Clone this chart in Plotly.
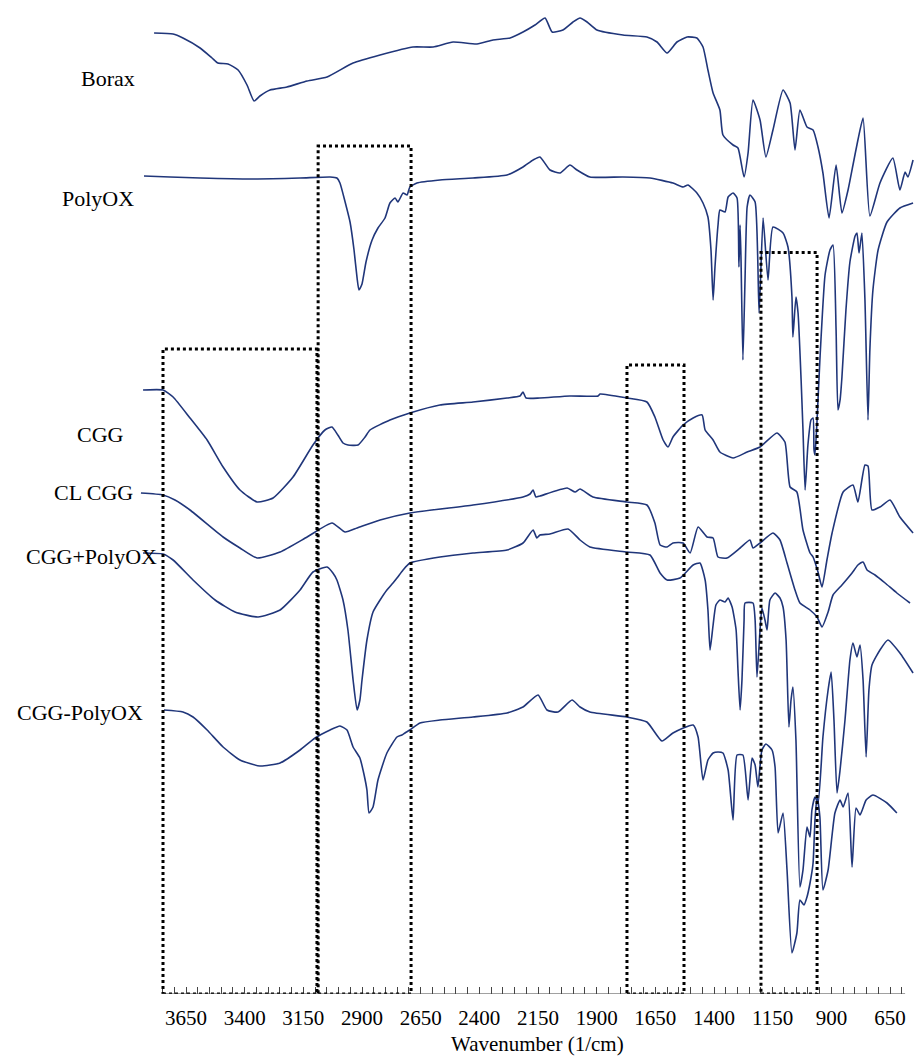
import plotly.graph_objects as go

# ---------------- data (wavenumber in 1/cm, stacked transmittance offsets in a.u.) ----------------
sample_names = ["Borax", "PolyOX", "CGG", "CL CGG", "CGG+PolyOX", "CGG-PolyOX"]

borax_wn = [3786, 3705, 3663, 3590, 3539, 3514, 3471, 3428, 3390, 3360, 3335, 3292, 3220, 3134, 3049,
            2938, 2823, 2683, 2597, 2512, 2410, 2342, 2269, 2214, 2163, 2120, 2090, 2044, 2001, 1971,
            1941, 1899, 1788, 1686, 1643, 1600, 1558, 1515, 1473, 1447, 1426, 1404, 1375, 1362, 1319,
            1298, 1272, 1255, 1234, 1204, 1179, 1149, 1106, 1076, 1055, 1034, 1004, 978, 957, 936,
            910, 880, 855, 829, 808, 787, 765, 736, 693, 638, 608, 586, 574, 552]
borax_t = [96.1, 96.0, 95.6, 94.6, 93.6, 93.1, 93.0, 92.4, 90.9, 89.3, 89.8, 90.4, 90.7, 91.3, 91.7,
           93.1, 93.9, 94.7, 94.7, 95.2, 95.0, 95.4, 95.6, 96.2, 96.9, 97.6, 96.2, 96.4, 97.2, 97.6,
           97.2, 96.4, 95.9, 95.7, 95.2, 94.1, 95.2, 95.7, 95.6, 94.7, 92.4, 90.1, 88.4, 85.9, 84.9,
           84.6, 81.7, 84.1, 89.4, 87.4, 83.7, 86.4, 90.4, 89.1, 84.4, 88.4, 86.7, 86.4, 84.7, 82.1,
           77.6, 82.9, 78.1, 80.4, 82.9, 85.4, 87.6, 77.8, 81.1, 83.6, 80.4, 82.2, 81.7, 83.4]

polyox_wn = [3829, 3718, 3590, 3377, 3164, 3036, 3007, 2994, 2972, 2951, 2934, 2921, 2913, 2900, 2883,
             2857, 2832, 2802, 2781, 2759, 2747, 2725, 2708, 2696, 2666, 2568, 2427, 2282, 2214, 2171,
             2142, 2099, 2056, 2014, 1984, 1929, 1788, 1673, 1575, 1532, 1511, 1473, 1447, 1426, 1413,
             1404, 1396, 1383, 1375, 1353, 1340, 1319, 1302, 1294, 1289, 1285, 1277, 1268, 1259, 1247,
             1225, 1208, 1191, 1170, 1149, 1106, 1085, 1068, 1064, 1051, 1042, 1029, 1021, 1012, 1000,
             987, 978, 974, 970, 961, 949, 927, 906, 893, 880, 872, 863, 855, 838, 821,
             799, 791, 782, 770, 757, 744, 736, 723, 701, 663, 608, 552]
polyox_t = [81.8, 81.7, 81.6, 81.5, 81.6, 81.7, 81.6, 81.1, 79.2, 77.2, 74.4, 71.6, 70.4, 71.0, 73.2,
            75.4, 76.6, 77.6, 79.1, 79.6, 79.2, 80.1, 79.9, 80.7, 81.1, 81.4, 81.6, 81.9, 82.7, 83.4,
            83.7, 82.4, 82.1, 82.9, 82.4, 81.7, 81.7, 81.6, 81.1, 80.7, 80.9, 80.1, 79.1, 77.7, 74.4,
            69.4, 72.7, 76.9, 78.4, 78.2, 79.7, 80.1, 79.6, 72.7, 76.9, 73.4, 63.4, 71.4, 78.7, 79.9,
            79.2, 68.1, 77.6, 71.4, 76.7, 76.1, 74.7, 69.7, 65.7, 69.7, 68.1, 61.4, 56.4, 50.4, 54.9,
            57.4, 57.6, 54.4, 53.9, 57.4, 63.4, 71.9, 74.4, 74.9, 66.4, 58.4, 59.4, 61.7, 68.4, 73.2,
            75.8, 76.1, 74.1, 76.1, 69.4, 57.4, 64.4, 70.4, 74.4, 77.2, 78.6, 79.1]

cgg_wn = [3833, 3748, 3705, 3633, 3560, 3492, 3420, 3347, 3279, 3194, 3109, 3058, 3028, 3003, 2981,
          2960, 2917, 2887, 2866, 2781, 2696, 2568, 2427, 2282, 2227, 2214, 2201, 2142, 2014, 1894,
          1886, 1771, 1686, 1652, 1617, 1596, 1575, 1532, 1489, 1451, 1438, 1404, 1375, 1319, 1259,
          1204, 1132, 1098, 1076, 1047, 1021, 991, 978, 957, 940, 919, 897, 850, 808, 787,
          757, 744, 727, 693, 650, 608, 552]
cgg_t = [60.4, 60.4, 59.7, 57.6, 55.4, 52.7, 50.4, 49.2, 49.6, 51.7, 54.9, 56.4, 56.7, 55.9, 55.1,
         54.9, 54.9, 55.7, 56.4, 57.4, 58.1, 58.9, 59.2, 59.6, 59.8, 60.2, 59.6, 59.6, 59.8, 59.8,
         60.0, 59.6, 59.2, 57.7, 55.4, 54.7, 55.7, 56.9, 57.6, 57.9, 56.4, 55.4, 54.2, 53.6, 54.2,
         54.7, 56.1, 55.2, 50.7, 50.2, 46.4, 44.1, 43.7, 42.2, 40.7, 43.4, 46.1, 50.2, 50.9, 49.2,
         52.9, 52.8, 48.4, 48.7, 49.4, 47.7, 46.1]

clcgg_wn = [3842, 3748, 3697, 3633, 3492, 3420, 3347, 3249, 3134, 3028, 2972, 2921, 2823, 2696, 2427,
            2214, 2184, 2171, 2159, 2142, 2026, 1992, 1971, 1916, 1771, 1686, 1652, 1630, 1600, 1575,
            1532, 1502, 1468, 1430, 1404, 1383, 1345, 1289, 1247, 1234, 1204, 1149, 1119, 1089, 1055,
            1034, 991, 961, 940, 914, 893, 855, 812, 787, 765, 748, 714, 671, 621, 565]
clcgg_t = [50.1, 49.9, 49.4, 48.4, 45.7, 44.6, 43.6, 44.2, 45.7, 47.1, 46.2, 46.6, 47.4, 48.1, 48.9,
           49.7, 50.0, 50.4, 49.7, 49.8, 50.6, 50.2, 50.5, 49.7, 49.2, 48.9, 47.1, 44.9, 44.7, 45.1,
           45.1, 44.1, 46.7, 45.7, 45.6, 43.7, 43.6, 44.6, 45.4, 44.6, 45.1, 46.1, 45.4, 43.1, 40.4,
           39.1, 38.4, 37.7, 36.7, 38.2, 39.9, 40.9, 42.1, 42.9, 43.2, 42.4, 41.9, 41.1, 40.1, 39.1]

mix_wn = [3833, 3748, 3705, 3620, 3526, 3441, 3343, 3249, 3164, 3109, 3049, 3024, 3007, 2981, 2960,
          2938, 2921, 2909, 2900, 2879, 2853, 2823, 2794, 2768, 2751, 2725, 2696, 2568, 2427, 2282,
          2214, 2171, 2155, 2142, 2099, 2022, 1971, 1929, 1771, 1673, 1630, 1600, 1545, 1489, 1460,
          1438, 1426, 1417, 1404, 1392, 1375, 1353, 1340, 1323, 1306, 1298, 1289, 1281, 1272, 1268,
          1234, 1225, 1217, 1204, 1196, 1183, 1174, 1162, 1140, 1119, 1106, 1093, 1081, 1072, 1064,
          1051, 1034, 1021, 1004, 991, 983, 970, 957, 936, 914, 901, 889, 876, 863, 842,
          821, 808, 791, 778, 765, 752, 740, 727, 693, 659, 608, 552]
mix_t = [44.1, 44.0, 43.4, 41.4, 39.4, 38.2, 37.7, 38.4, 40.4, 42.2, 42.7, 42.1, 41.4, 39.4, 36.4,
         31.4, 28.4, 29.4, 31.4, 35.4, 38.2, 39.4, 40.4, 41.1, 41.6, 42.4, 43.1, 43.7, 44.1, 44.4,
         45.1, 46.4, 45.6, 45.9, 46.0, 46.5, 45.4, 44.7, 44.2, 43.9, 42.1, 41.4, 41.6, 42.9, 43.1,
         41.4, 38.4, 34.4, 36.9, 38.9, 39.4, 39.2, 39.6, 38.7, 36.4, 32.4, 28.4, 31.4, 37.4, 39.1,
         39.1, 37.4, 31.7, 36.4, 38.6, 37.4, 36.4, 39.4, 40.1, 39.6, 38.7, 35.4, 26.7, 29.4, 30.7,
         25.4, 10.7, 12.4, 16.7, 15.7, 18.4, 19.7, 19.1, 25.7, 30.4, 32.2, 27.4, 20.1, 22.4, 27.4,
         33.4, 35.1, 33.7, 34.9, 31.4, 23.7, 30.4, 32.9, 34.4, 35.4, 34.1, 32.1]

blend_wn = [3744, 3663, 3620, 3560, 3492, 3420, 3335, 3249, 3164, 3100, 3036, 2994, 2964, 2938, 2909,
            2891, 2879, 2870, 2853, 2832, 2794, 2751, 2730, 2717, 2696, 2653, 2568, 2427, 2282, 2214,
            2150, 2112, 2065, 2005, 1971, 1929, 1771, 1686, 1622, 1575, 1489, 1468, 1447, 1426, 1404,
            1383, 1362, 1340, 1319, 1302, 1277, 1255, 1238, 1225, 1213, 1196, 1179, 1153, 1140, 1127,
            1106, 1089, 1068, 1047, 1034, 1017, 1004, 991, 978, 970, 961, 949, 936, 914, 885,
            863, 850, 829, 812, 795, 778, 752, 723, 663, 621]
blend_t = [28.4, 28.2, 27.7, 26.4, 24.7, 23.4, 22.8, 23.1, 24.4, 25.6, 26.4, 26.8, 26.4, 24.7, 23.6,
           21.9, 20.4, 18.1, 18.7, 21.4, 24.1, 25.7, 25.9, 26.1, 26.4, 27.1, 27.4, 27.7, 28.1, 28.7,
           29.9, 28.4, 28.2, 29.4, 28.7, 28.2, 27.7, 27.2, 25.3, 26.1, 26.9, 25.7, 21.4, 23.4, 24.1,
           24.2, 24.1, 22.4, 17.4, 23.9, 23.9, 19.4, 23.6, 22.9, 20.7, 24.4, 25.0, 24.4, 22.7, 16.1,
           18.1, 12.4, 4.1, 6.1, 9.4, 8.9, 9.7, 11.1, 13.1, 17.4, 19.7, 17.7, 10.4, 12.4, 18.1,
           19.4, 18.7, 20.1, 12.7, 18.6, 17.9, 19.4, 19.9, 19.1, 18.1]

major_ticks = [3650, 3400, 3150, 2900, 2650, 2400, 2150, 1900, 1650, 1400, 1150, 900, 650]
minor_ticks = [w for w in range(600, 3751, 50) if w not in major_ticks]

# highlighted regions: (high wavenumber, low wavenumber, top of box)
box_regions = [(3748, 3092, 64.5), (3087, 2691, 84.8), (1771, 1528, 62.9), (1200, 961, 74.15)]

# label anchor points (paper coordinates of each sample name)
label_pos = [(-0.041, 0.921), (-0.054, 0.800), (-0.051, 0.563), (-0.060, 0.505),
             (-0.063, 0.440), (-0.077, 0.283)]

# ---------------- figure ----------------
LINE = "#20367a"
X_RANGE = [3846.0, 535.2]
Y_RANGE = [0, 99.4]
FONT = "Liberation Serif"
FSIZE = 22

fig = go.Figure()
series = [(borax_wn, borax_t), (polyox_wn, polyox_t), (cgg_wn, cgg_t),
          (clcgg_wn, clcgg_t), (mix_wn, mix_t), (blend_wn, blend_t)]
for name, (wn, t) in zip(sample_names, series):
    fig.add_trace(go.Scatter(x=wn, y=t, mode="lines", name=name,
                             line=dict(color=LINE, width=1.6, shape="spline", smoothing=0.5),
                             showlegend=False, hoverinfo="skip"))

shapes = []
for hi, lo, top in box_regions:
    shapes.append(dict(type="rect", xref="x", yref="y", x0=hi, x1=lo, y0=0, y1=top,
                       line=dict(color="black", width=3, dash="dot"),
                       fillcolor="rgba(0,0,0,0)", layer="above"))
# visible axis baseline spanning the scale
shapes.append(dict(type="line", xref="x", yref="y", x0=3752, x1=586, y0=0, y1=0,
                   line=dict(color="#444444", width=1.2)))

annotations = []
for name, (ax, ay) in zip(sample_names, label_pos):
    annotations.append(dict(text=name, xref="paper", yref="paper", x=ax, y=ay,
                            xanchor="center", yanchor="middle", showarrow=False,
                            font=dict(family=FONT, size=FSIZE, color="black")))
annotations.append(dict(text="Wavenumber (1/cm)", xref="paper", yref="paper",
                        x=0.512, y=-0.0508, xanchor="center", yanchor="middle",
                        showarrow=False, font=dict(family=FONT, size=21, color="black")))

fig.update_layout(
    width=917, height=1056,
    margin=dict(l=140, r=0, t=0, b=62),
    paper_bgcolor="white", plot_bgcolor="white",
    shapes=shapes, annotations=annotations,
    xaxis=dict(range=X_RANGE, showgrid=False, zeroline=False, showline=False,
               tickmode="array", tickvals=major_ticks, ticktext=[str(v) for v in major_ticks],
               ticks="inside", ticklen=7, tickcolor="#444444", tickwidth=1,
               ticklabelstandoff=9,
               tickfont=dict(family=FONT, size=21, color="black"),
               minor=dict(tickmode="array", tickvals=minor_ticks, ticks="inside",
                          ticklen=7, tickcolor="#444444", tickwidth=1, showgrid=False)),
    yaxis=dict(range=Y_RANGE, visible=False, showgrid=False, zeroline=False),
)

fig.write_html("out.html", config={"displayModeBar": False},
               post_script="document.body.style.margin='0';document.body.style.padding='0';")
